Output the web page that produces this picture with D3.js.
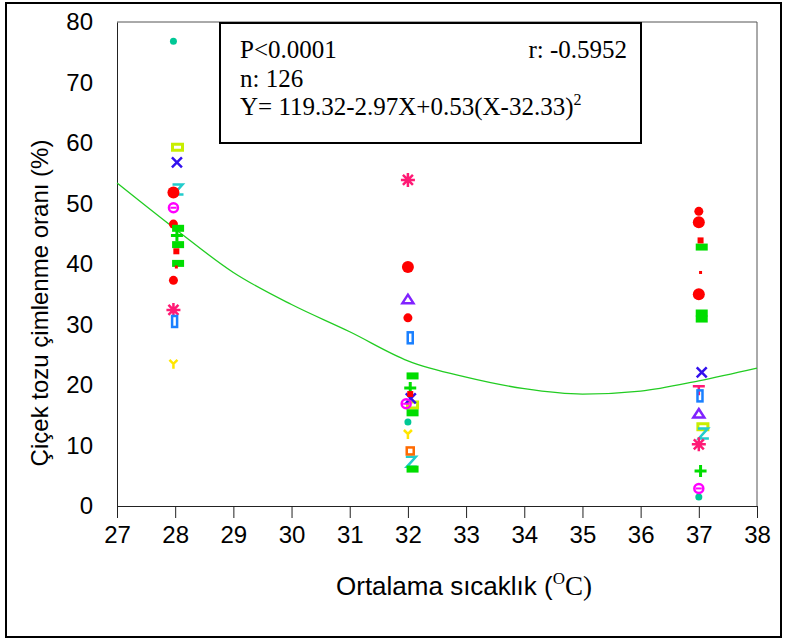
<!DOCTYPE html>
<html>
<head>
<meta charset="utf-8">
<script src="https://cdn.jsdelivr.net/npm/d3@7"></script>
<style>
  body { margin: 0; background: #fff; }
  svg { display: block; }
</style>
</head>
<body>
<script>
// temperature (x) and germination rate (%), grouped by marker
let xTicks = [27, 28, 29, 30, 31, 32, 33, 34, 35, 36, 37, 38];
let yTicks = [0, 10, 20, 30, 40, 50, 60, 70, 80];

let tealDot = [[27.97, 76.8], [32.0, 13.9], [37.0, 1.5]];
let limeRect = [[28.04, 59.3], [32.08, 16.7], [37.07, 13.1]];
let blueX = [[28.03, 56.8], [32.05, 17.8], [37.05, 22.1]];
let cyanZ = [[28.04, 52.3], [32.05, 7.3], [37.07, 12.0]];
let redBig = [[27.97, 51.8], [32.0, 39.5], [37.0, 46.9], [37.0, 35.0]];
let redSmall = [[27.97, 46.6], [27.97, 37.3], [32.0, 31.1], [37.0, 48.7]];
let magentaO = [[27.97, 49.3], [31.97, 16.9], [37.0, 2.9]];
let greenRect = [[28.05, 45.9], [28.05, 43.2], [28.05, 40.1], [32.08, 21.5], [32.08, 15.4],
                 [32.08, 6.1], [37.05, 42.8], [37.05, 31.9], [37.05, 30.9]];
let greenPlus = [[28.03, 44.7], [32.04, 19.5], [37.03, 5.8]];
let redSquare = [[28.02, 42.1], [32.04, 18.5], [37.03, 43.9]];
let redTiny = [[28.02, 39.5], [37.03, 38.6]];
let pinkStar = [[27.97, 32.4], [32.0, 53.9], [37.0, 10.2]];
let pinkPlus = [[37.0, 19.3]];
let blueTall = [[27.99, 30.5], [32.04, 27.8], [37.02, 18.2]];
let yellowY = [[27.97, 23.5], [32.0, 11.9]];
let purpleTri = [[32.0, 34.1], [37.0, 15.2]];
let orangeSq = [[32.04, 9.1]];

// fitted curve, read at each whole degree
let curveX = [27, 28, 29, 30, 31, 32, 33, 34, 35, 36, 37, 38];
let curveY = [53.4, 45.8, 38.6, 33.3, 28.8, 24.0, 21.3, 19.4, 18.5, 19.0, 20.7, 22.8];

let width = 787;
let height = 641;
let plot = { left: 117, right: 757, top: 22, bottom: 506 };

let svg = d3.select("body")
    .append("svg")
    .attr("width", width)
    .attr("height", height);

let xScale = d3.scaleLinear().domain([27, 38]).range([plot.left, plot.right]);
let yScale = d3.scaleLinear().domain([0, 80]).range([plot.bottom, plot.top]);

// outer frame
svg.append("rect")
    .attr("x", 6).attr("y", 3)
    .attr("width", 775).attr("height", 634)
    .attr("fill", "none").attr("stroke", "#000").attr("stroke-width", 2);

// plot top and right edges
svg.append("path")
    .attr("d", "M" + plot.left + "," + plot.top + "H" + plot.right + "V" + plot.bottom)
    .attr("fill", "none").attr("stroke", "#555").attr("stroke-width", 1);

let xAxis = d3.axisBottom(xScale).tickValues(xTicks).tickSizeOuter(0).tickSize(12).tickPadding(8);
let yAxis = d3.axisLeft(yScale).tickValues(yTicks).tickSizeOuter(0).tickSize(0).tickPadding(24);

svg.append("g")
    .attr("class", "axis")
    .attr("transform", "translate(0," + plot.bottom + ")")
    .call(xAxis);
svg.append("g")
    .attr("class", "axis")
    .attr("transform", "translate(" + plot.left + ",0)")
    .call(yAxis);

svg.selectAll(".axis path, .axis line").attr("stroke", "#222");
svg.selectAll(".axis text")
    .style("font-family", "'Liberation Sans', Arial, sans-serif")
    .style("font-size", "24px")
    .attr("fill", "#000");

// fitted curve
let line = d3.line()
    .x((d, i) => xScale(curveX[i]))
    .y((d) => yScale(d))
    .curve(d3.curveMonotoneX);
svg.append("path")
    .attr("d", line(curveY))
    .attr("fill", "none")
    .attr("stroke", "#22cc22")
    .attr("stroke-width", 1.3);

// markers
let marks = svg.append("g");
function place(data) {
    return marks.selectAll(null).data(data).join("g")
        .attr("transform", (d) => "translate(" + xScale(d[0]) + "," + yScale(d[1]) + ")");
}
place(tealDot).append("circle").attr("r", 3.5).attr("fill", "#00c896");
place(limeRect).append("rect").attr("x", -5).attr("y", -3).attr("width", 10).attr("height", 6)
    .attr("fill", "none").attr("stroke", "#c8ee00").attr("stroke-width", 3);
place(blueX).append("path").attr("d", "M-5,-5L5,5M5,-5L-5,5")
    .attr("stroke", "#3311ee").attr("stroke-width", 2.5);
place(cyanZ).append("path").attr("d", "M-5,-5H5L-4,5H6")
    .attr("fill", "none").attr("stroke", "#22cccc").attr("stroke-width", 2.5);
place(redBig).append("circle").attr("r", 6).attr("fill", "#ff0000");
place(redSmall).append("circle").attr("r", 4.5).attr("fill", "#ff0000");
let mo = place(magentaO);
mo.append("circle").attr("r", 4.5).attr("fill", "none").attr("stroke", "#ff00ff").attr("stroke-width", 2.5);
mo.append("path").attr("d", "M-3,0H3").attr("stroke", "#ff00ff").attr("stroke-width", 2);
place(greenRect).append("rect").attr("x", -6).attr("y", -3.5).attr("width", 12).attr("height", 7)
    .attr("fill", "#00dd00");
place(greenPlus).append("path").attr("d", "M-6,0H6M0,-6V6")
    .attr("stroke", "#00dd00").attr("stroke-width", 3);
place(redSquare).append("rect").attr("x", -3).attr("y", -3).attr("width", 6).attr("height", 6)
    .attr("fill", "#ff0000");
place(redTiny).append("rect").attr("x", -1.5).attr("y", -1.5).attr("width", 3).attr("height", 3)
    .attr("fill", "#ff0000");
place(pinkStar).append("path").attr("d", "M-7,0H7M0,-7V7M-5,-5L5,5M5,-5L-5,5")
    .attr("stroke", "#ff1a75").attr("stroke-width", 2.5);
place(pinkPlus).append("path").attr("d", "M-6,-3H6M0,-3V6")
    .attr("stroke", "#ff1a75").attr("stroke-width", 2.5);
place(blueTall).append("rect").attr("x", -2.5).attr("y", -5.5).attr("width", 5).attr("height", 11)
    .attr("fill", "none").attr("stroke", "#1a80ff").attr("stroke-width", 2.5);
place(yellowY).append("path").attr("d", "M-4,-4L0,0L4,-4M0,0V5")
    .attr("fill", "none").attr("stroke", "#ffe600").attr("stroke-width", 2.5);
place(purpleTri).append("path").attr("d", "M0,-5L5.5,3.5H-5.5Z")
    .attr("fill", "none").attr("stroke", "#8022ff").attr("stroke-width", 2.5);
place(orangeSq).append("rect").attr("x", -3.5).attr("y", -3.5).attr("width", 7).attr("height", 7)
    .attr("fill", "none").attr("stroke", "#ff6a00").attr("stroke-width", 2.5);

// statistics box
let serif = "'Liberation Serif', 'Times New Roman', serif";
svg.append("rect")
    .attr("x", 220).attr("y", 23)
    .attr("width", 421).attr("height", 120)
    .attr("fill", "#fff").attr("stroke", "#000").attr("stroke-width", 2);
let stats = svg.append("g")
    .style("font-family", serif)
    .style("font-size", "25px")
    .attr("fill", "#000");
stats.append("text").attr("x", 240).attr("y", 58).text("P<0.0001");
stats.append("text").attr("x", 627).attr("y", 58).attr("text-anchor", "end").text("r: -0.5952");
stats.append("text").attr("x", 240).attr("y", 87).text("n: 126");
let eq = stats.append("text").attr("x", 240).attr("y", 115);
eq.append("tspan").text("Y= 119.32-2.97X+0.53(X-32.33)");
eq.append("tspan").attr("dy", -10).style("font-size", "16px").text("2");

// axis titles
let yTitle = svg.append("text")
    .attr("transform", "translate(48,303) rotate(-90)")
    .attr("text-anchor", "middle")
    .style("font-family", "'Liberation Sans', Arial, sans-serif")
    .style("font-size", "24px")
    .text("Çiçek tozu çimlenme oranı (%)");

let xTitle = svg.append("text")
    .attr("x", 464).attr("y", 595)
    .attr("text-anchor", "middle")
    .style("font-family", "'Liberation Sans', Arial, sans-serif")
    .style("font-size", "26px");
xTitle.append("tspan").text("Ortalama sıcaklık (");
xTitle.append("tspan").attr("dy", -11).style("font-family", serif).style("font-size", "17px").text("O");
xTitle.append("tspan").attr("dy", 11).style("font-family", serif).style("font-size", "27px").text("C)");
</script>
</body>
</html>
